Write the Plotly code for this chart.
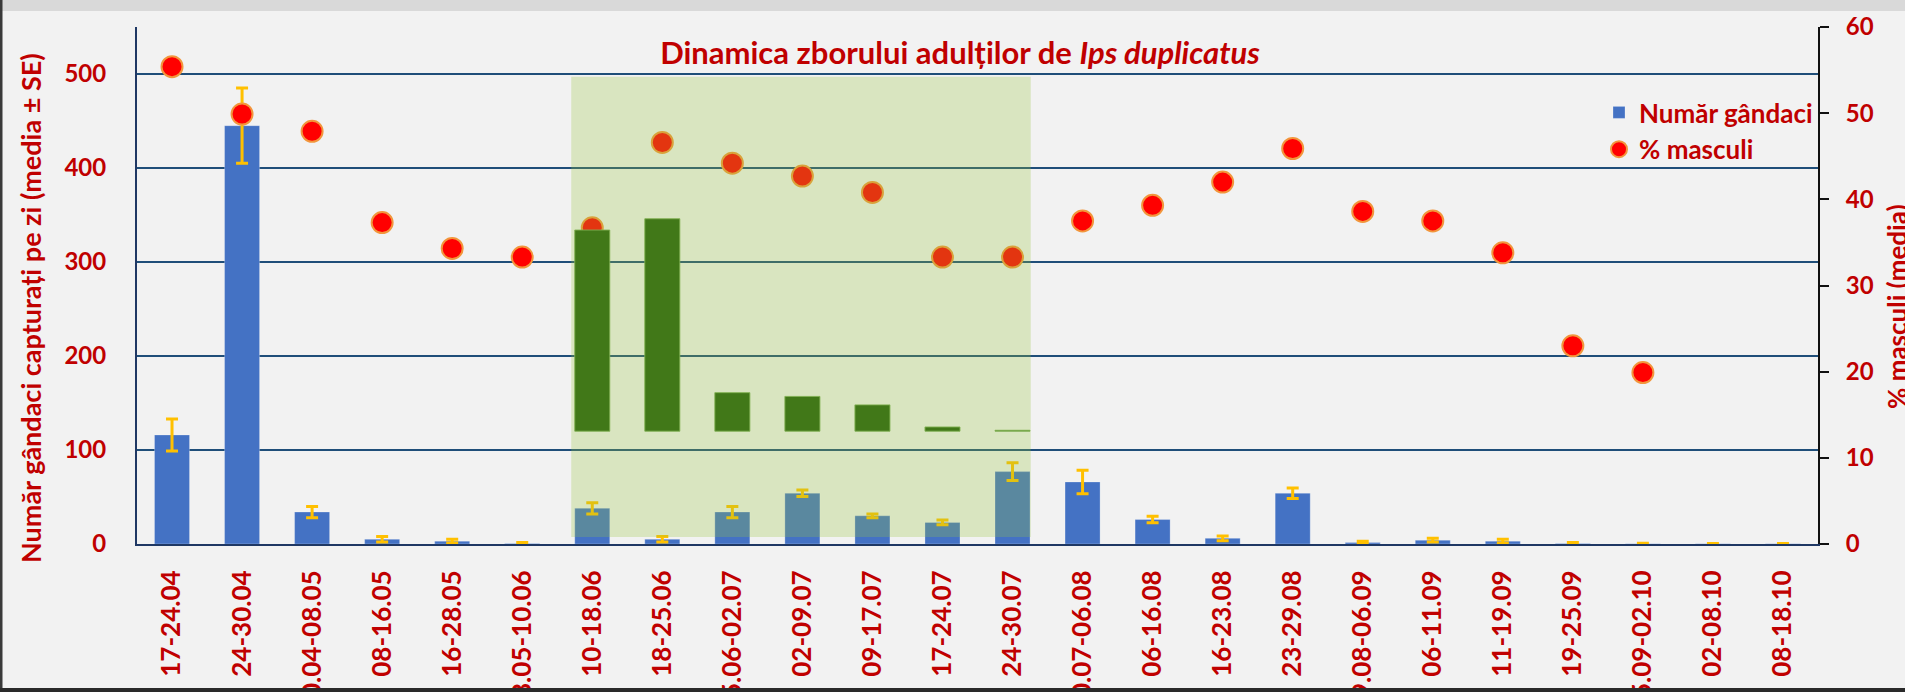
import plotly.graph_objects as go

# ---------------- data ----------------
periods = ["17-24.04", "24-30.04", "30.04-08.05", "08-16.05", "16-28.05", "28.05-10.06",
           "10-18.06", "18-25.06", "25.06-02.07", "02-09.07", "09-17.07", "17-24.07",
           "24-30.07", "30.07-06.08", "06-16.08", "16-23.08", "23-29.08", "29.08-06.09",
           "06-11.09", "11-19.09", "19-25.09", "25.09-02.10", "02-08.10", "08-18.10"]

beetles_mean = [116, 445, 34, 5, 3, 0.5, 38, 5, 34, 54, 30, 23, 77, 66, 26, 6, 54,
                1.5, 4, 3, 0.5, 0.3, 0.2, 0.2]
beetles_se = [17, 40, 6, 3, 2, 1, 6, 3, 6, 3.5, 2, 2.5, 9.5, 12.5, 3.5, 2.5, 5.5,
              1.5, 2, 2, 1, 0.5, 0.3, 0.3]

males_pct = [55.4, 49.9, 47.9, 37.3, 34.3, 33.3, 36.7, 46.6, 44.2, 42.7, 40.8, 33.3,
             33.3, 37.5, 39.3, 42.0, 45.9, 38.6, 37.5, 33.8, 23.0, 19.9, None, None]

# inset (green) bars inside the highlighted June-July window
inset_periods = ["10-18.06", "18-25.06", "25.06-02.07", "02-09.07", "09-17.07",
                 "17-24.07", "24-30.07"]
inset_base = 120
inset_top = [334, 346, 161, 157, 148, 124.5, 121]

left_ticks = [0, 100, 200, 300, 400, 500]
right_ticks = [0, 10, 20, 30, 40, 50, 60]

# ---------------- style ----------------
RED = "#C00000"
FONT = "Lato"
W, H = 1905, 692
ML, MR, MT, MB = 137, 87, 27, 148
PW, PH = W - ML - MR, H - MT - MB


def px_x(p):
    return (p - ML) / PW


def px_y(p):
    return (H - MB - p) / PH


ytickfont = dict(family=FONT, size=24, color=RED, weight="bold")
xtickfont = dict(family=FONT, size=26, color=RED, weight="bold")

fig = go.Figure()

fig.add_trace(go.Bar(
    x=periods, y=beetles_mean, name="Număr gândaci",
    marker=dict(color="#4472C4", line=dict(color="rgba(255,255,255,0.25)", width=1)),
    error_y=dict(type="data", array=beetles_se, color="#FFC000", thickness=3, width=6),
    width=0.5, yaxis="y", showlegend=True,
))

fig.add_trace(go.Scatter(
    x=periods, y=males_pct, name="% masculi", mode="markers",
    marker=dict(color="#FF0000", size=21, line=dict(color="#F2963C", width=2)),
    yaxis="y2", showlegend=True,
))

fig.add_trace(go.Bar(
    x=inset_periods, y=[t - inset_base for t in inset_top], base=inset_base,
    marker=dict(color="#225C0C", line=dict(color="rgba(120,170,90,0.9)", width=1)),
    width=0.5, yaxis="y3", showlegend=False,
))

shapes = [
    # highlighted window (semi-transparent green over bars, markers, grid)
    dict(type="rect", xref="x", yref="y", x0=5.7, x1=12.26, y0=7.5, y1=497,
         fillcolor="rgba(150,195,60,0.27)", line=dict(width=0), layer="above"),
    # top grey band of the frame
    dict(type="rect", xref="paper", yref="paper", x0=px_x(0), x1=px_x(W),
         y0=px_y(11), y1=px_y(0), fillcolor="#D9D9D9", line=dict(width=0), layer="below"),
    # left frame edge
    dict(type="line", xref="paper", yref="paper", x0=px_x(1), x1=px_x(1),
         y0=px_y(0), y1=px_y(H), line=dict(color="#3A3A3A", width=3), layer="above"),
    # bottom frame edge
    dict(type="line", xref="paper", yref="paper", x0=px_x(0), x1=px_x(W),
         y0=px_y(690), y1=px_y(690), line=dict(color="#2A2A2A", width=4), layer="above"),
]

annotations = [
    dict(text="Număr gândaci capturați pe zi (media ± SE)", xref="paper", yref="paper",
         x=px_x(30), y=px_y(308), textangle=-90, showarrow=False,
         xanchor="center", yanchor="middle",
         font=dict(family=FONT, size=27, color=RED, weight="bold")),
    dict(text="% masculi (media)", xref="paper", yref="paper",
         x=px_x(1897), y=px_y(307), textangle=-90, showarrow=False,
         xanchor="center", yanchor="middle",
         font=dict(family=FONT, size=26, color=RED, weight="bold")),
]

fig.update_layout(
    width=W, height=H,
    margin=dict(l=ML, r=MR, t=MT, b=MB, autoexpand=False),
    paper_bgcolor="#F2F2F2", plot_bgcolor="#F2F2F2",
    barmode="overlay",
    title=dict(text="Dinamica zborului adulților de <i>Ips duplicatus</i>",
               x=960 / W, xanchor="center", y=1 - 53 / H, yanchor="middle",
               font=dict(family=FONT, size=31, color=RED, weight="bold")),
    xaxis=dict(type="category", categoryorder="array", categoryarray=periods,
               range=[-0.5, len(periods) - 0.5], tickangle=-90, tickfont=xtickfont,
               showline=True, linecolor="#1F3864", linewidth=2, ticks="",
               showgrid=False, ticklabelstandoff=14, automargin=False),
    yaxis=dict(range=[0, 550], tickvals=left_ticks, tickfont=ytickfont,
               showgrid=True, gridcolor="#1F4E79", gridwidth=2,
               showline=True, linecolor="#1F3864", linewidth=2, ticks="",
               zeroline=False, ticklabelstandoff=24, automargin=False),
    yaxis2=dict(range=[0, 60], tickvals=right_ticks, overlaying="y", side="right",
                tickfont=ytickfont, showgrid=False, zeroline=False,
                showline=True, linecolor="#111111", linewidth=2,
                ticks="outside", ticklen=9, tickwidth=2, tickcolor="#111111",
                ticklabelstandoff=12, automargin=False),
    yaxis3=dict(range=[0, 550], overlaying="y", visible=False),
    legend=dict(x=px_x(1599), y=px_y(89), xanchor="left", yanchor="top",
                bgcolor="rgba(0,0,0,0)",
                font=dict(family=FONT, size=26, color=RED, weight="bold"),
                itemwidth=30, tracegroupgap=0),
    shapes=shapes,
    annotations=annotations,
)

fig.write_html("out.html",
               config={"displayModeBar": False},
               post_script="document.body.style.margin='0px';"
                           "document.body.style.background='#F2F2F2';")
